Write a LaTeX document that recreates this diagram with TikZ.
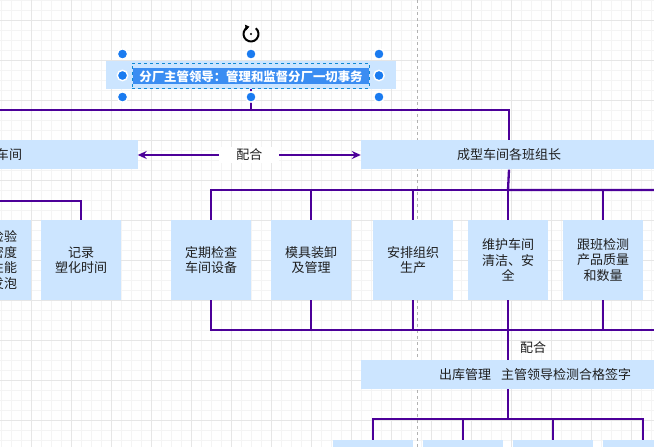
\documentclass[tikz,border=0pt]{standalone}
\usepackage{fontspec}
\newfontfamily\cjk{Noto Sans CJK SC}
\usepackage{tikz}
\usetikzlibrary{arrows.meta,positioning}

\definecolor{boxfill}{HTML}{CCE5FF}
\definecolor{linkcol}{HTML}{4C0099}
\definecolor{gridminor}{HTML}{F4F4F4}
\definecolor{gridmajor}{HTML}{E6E6E6}
\definecolor{txtcol}{HTML}{1E1E1E}
\definecolor{selblue}{HTML}{3B8DF2}
\definecolor{handlecol}{HTML}{1A7BF0}

\begin{document}
\begin{tikzpicture}[x=1bp, y=-1bp,
  font=\cjk\fontsize{13bp}{15.5bp}\selectfont,
  box/.style={fill=boxfill, draw=none, align=center, inner sep=2pt, text=txtcol},
  bar/.style={box, minimum width=296bp, minimum height=29bp},
  cell/.style={box, minimum width=80bp, minimum height=80bp},
  link/.style={draw=linkcol, line width=2.3bp},
  dlink/.style={link, {Stealth[length=9bp,width=8bp,inset=3bp]}-{Stealth[length=9bp,width=8bp,inset=3bp]}},
  lab/.style={text=txtcol, fill=white, inner xsep=17bp, inner ysep=2bp}
]
\useasboundingbox (0,0) rectangle (654,447);
\clip (0,0) rectangle (654,447);

% grid
\fill[white] (0,0) rectangle (654,447);
\foreach \gx in {1.7,11.7,...,661.7}
  \draw[gridminor, line width=0.8bp] (\gx,0) -- (\gx,447);
\foreach \gy in {0,10,...,450}
  \draw[gridminor, line width=0.8bp] (0,\gy) -- (654,\gy);
\foreach \gx in {-8.3,31.7,...,671.7}
  \draw[gridmajor, line width=0.8bp] (\gx,0) -- (\gx,447);
\foreach \gy in {20,60,...,460}
  \draw[gridmajor, line width=0.8bp] (0,\gy) -- (654,\gy);
\draw[black!30, line width=0.8bp, dash pattern=on 3bp off 3bp] (417.3,0) -- (417.3,447);

% head
\node[box, minimum width=290bp, minimum height=28bp] (top) at (251,75) {};
\node[fill=selblue, text=white, inner sep=0pt, minimum width=236bp, minimum height=16bp,
  font=\cjk\bfseries\fontsize{12.4bp}{15bp}\selectfont] (toptext) at (251,76.5)
  {分厂主管领导：管理和监督分厂一切事务};
\node[draw=cyan!70!blue, dashed, line width=0.8bp, minimum width=237bp,
  minimum height=25bp] (sel) at (250.5,75.5) {};

% workshops
\node[bar] (ws) at (-10.5,155) {预发泡车间};
\node[bar] (grp) at (509,155) {成型车间各班组长};

\node[cell] (chk) at (-9,260) {定时检验\\颗粒密度\\发泡性能\\观察发泡};
\node[cell] (rec) at (81,260) {记录\\塑化时间};

\node[cell] (c1) at (211,260) {定期检查\\车间设备};
\node[cell] (c2) at (311,260) {模具装卸\\及管理};
\node[cell] (c3) at (413,260) {安排组织\\生产};
\node[cell] (c4) at (508,260) {维护车间\\清洁、安\\全};
\node[cell] (c5) at (603,260) {跟班检测\\产品质量\\和数量};

\node[box, minimum width=348bp, minimum height=29bp] (out) at (535,374.5)
  {出库管理\hspace{10bp}主管领导检测合格签字};

\node[cell] (d1) at (372.7,480) {};
\node[cell] (d2) at (462.7,480) {};
\node[cell] (d3) at (552.7,480) {};
\node[cell] (d4) at (642.7,480) {};

\coordinate (busA) at (251,110);
\coordinate (busB) at (508,190);
\coordinate (busC) at (508,330);
\coordinate (busD) at (508,419);
\coordinate (offB) at (700,190);
\coordinate (offC) at (700,330);

% connectors
\draw[link] (top.south) -- (busA) -| (ws.north);
\draw[link] (busA) -| (grp.north);
\draw[dlink] (grp.west) -- (ws.east) node[lab, midway] {配合};

\draw[link] (ws.south) -- ++(0,31) -| (rec.north);
\draw[link] (chk.north) -- ++(0,-20);

\draw[link] (grp.south) -- (busB) -- (offB);
\draw[link] (c1.north) |- (busB);
\foreach \c in {c2,c3,c4,c5}
  \draw[link] (\c.north) -- (\c.north |- busB);

\draw[link] (c1.south) |- (offC);
\foreach \c in {c2,c3,c4,c5}
  \draw[link] (\c.south) -- (\c.south |- busC);
\draw[link] (busC) -- (busC |- out.north);
\node[text=txtcol] (coop) at (533,348) {配合};

\draw[link] (busD |- out.south) -- (busD);
\draw[link] (d1.north) |- (busD) -| (d4.north);
\draw[link] (d2.north) -- (d2.north |- busD);
\draw[link] (d3.north) -- (d3.north |- busD);

% selection handles
\foreach \hx/\hy in {122.5/54,251/54,379/54,122.5/75.5,379/75.5,122.5/97,251/97,379/97}
  \filldraw[fill=handlecol, draw=white, line width=1.4bp] (\hx,\hy) circle[radius=5.2];
\draw[line width=2bp, -{Triangle[length=4bp,width=5.5bp]}]
  (251,34) ++(-50:7.5) arc[start angle=-50, end angle=258, radius=7.5];
\fill (251,34) circle[radius=1.2];
\end{tikzpicture}
\end{document}
